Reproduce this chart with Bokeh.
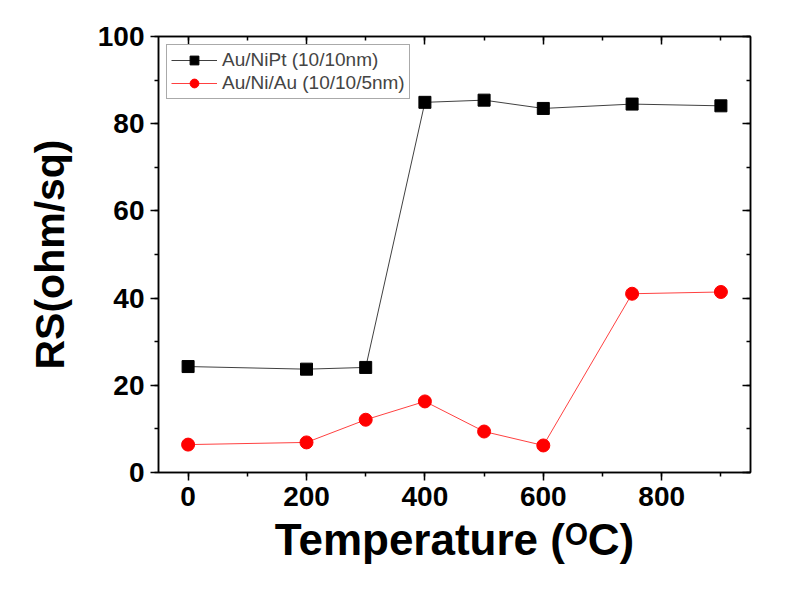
from bokeh.plotting import figure
from bokeh.models import LinearAxis, SingleIntervalTicker, Legend, LegendItem, ColumnDataSource
from bokeh.embed import file_html
from bokeh.resources import INLINE

temperature = [0, 200, 300, 400, 500, 600, 750, 900]
au_nipt = [24.3, 23.7, 24.1, 84.9, 85.4, 83.5, 84.5, 84.1]
au_ni_au = [6.4, 6.9, 12.1, 16.3, 9.4, 6.2, 41.0, 41.4]
series_names = ["Au/NiPt (10/10nm)", "Au/Ni/Au (10/10/5nm)"]
x_ticks_interval = 200
y_ticks_interval = 20

FONT = "Liberation Sans"

p = figure(width=790, height=591, x_range=(-50, 950), y_range=(0, 100),
           output_backend="svg", toolbar_location=None,
           min_border_left=158, min_border_right=40, min_border_top=36, min_border_bottom=119)
p.background_fill_color = "white"
p.border_fill_color = "white"
p.xgrid.visible = False
p.ygrid.visible = False
p.outline_line_color = "black"
p.outline_line_width = 1.5

src1 = ColumnDataSource(dict(x=temperature, y=au_nipt))
src2 = ColumnDataSource(dict(x=temperature, y=au_ni_au))

l1 = p.line("x", "y", source=src1, color="black", line_width=1, line_alpha=0.75)
m1 = p.scatter("x", "y", source=src1, marker="square", size=12, color="black")
l2 = p.line("x", "y", source=src2, color="red", line_width=1, line_alpha=0.75)
m2 = p.scatter("x", "y", source=src2, marker="circle", size=13, color="red")

def style_main(ax, interval):
    ax.ticker = SingleIntervalTicker(interval=interval, num_minor_ticks=2)
    ax.axis_line_width = 1.5
    ax.axis_line_color = "black"
    ax.major_tick_line_width = 1.5
    ax.minor_tick_line_width = 1.5
    ax.major_tick_in = 0
    ax.major_tick_out = 8
    ax.minor_tick_in = 0
    ax.minor_tick_out = 4
    ax.major_label_text_font = FONT
    ax.major_label_text_font_style = "bold"
    ax.major_label_text_font_size = "28px"
    ax.major_label_text_color = "black"
    ax.axis_label_text_font = FONT
    ax.axis_label_text_font_style = "bold"
    ax.axis_label_text_color = "black"

xa = p.xaxis[0]
style_main(xa, x_ticks_interval)
xa.axis_label = "Temperature (\u1D3CC)"
xa.axis_label_text_font_size = "44px"
xa.major_label_standoff = 6
xa.axis_label_standoff = 6

ya = p.yaxis[0]
style_main(ya, y_ticks_interval)
ya.axis_label = "RS(ohm/sq)"
ya.axis_label_text_font_size = "41px"
ya.major_label_standoff = 6
ya.axis_label_standoff = 22

def mirror(interval, values):
    ax = LinearAxis(ticker=SingleIntervalTicker(interval=interval, num_minor_ticks=2))
    ax.axis_line_width = 1.5
    ax.major_tick_line_width = 1.5
    ax.minor_tick_line_width = 1.5
    ax.major_tick_in = 8
    ax.major_tick_out = 0
    ax.minor_tick_in = 4
    ax.minor_tick_out = 0
    ax.major_label_overrides = {v: "" for v in values}
    ax.major_label_standoff = 0
    return ax

p.add_layout(mirror(x_ticks_interval, range(-200, 1201, x_ticks_interval)), "above")
p.add_layout(mirror(y_ticks_interval, range(-20, 121, y_ticks_interval)), "right")

legend = Legend(items=[LegendItem(label=series_names[0], renderers=[l1, m1]),
                       LegendItem(label=series_names[1], renderers=[l2, m2])],
                location="top_left")
legend.margin = 8
legend.padding = 4
legend.spacing = 1
legend.glyph_width = 46
legend.glyph_height = 22
legend.label_text_font = FONT
legend.label_text_font_size = "19px"
legend.label_standoff = 5
legend.border_line_color = "#555555"
legend.border_line_width = 1
legend.background_fill_alpha = 1
p.add_layout(legend)

open("out.html", "w").write(file_html(p, INLINE))
